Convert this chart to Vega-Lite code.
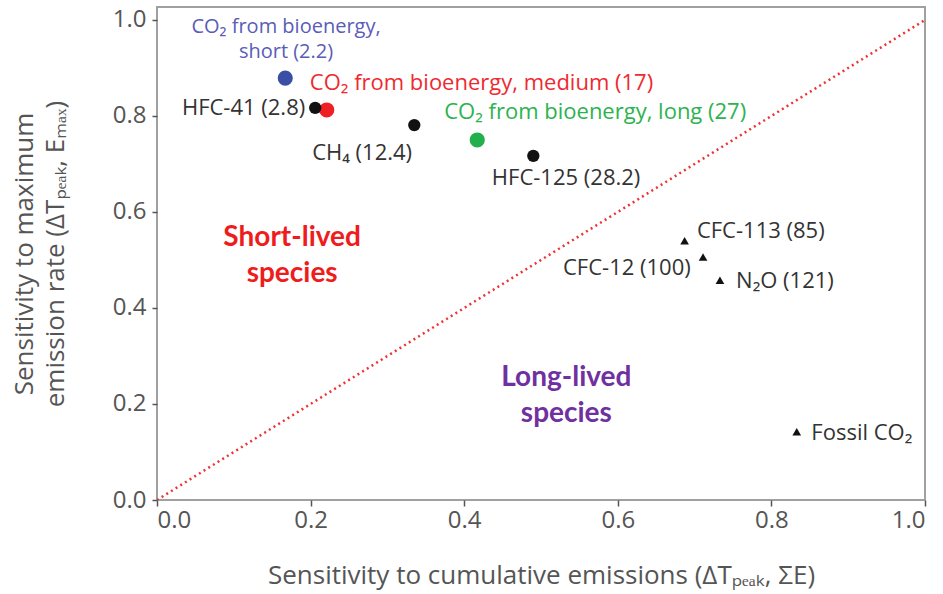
{
  "$schema": "https://vega.github.io/schema/vega-lite/v6.json",
  "autosize": {"type": "none"},
  "padding": {"left": 157, "top": 7, "right": 18, "bottom": 94},
  "width": 768,
  "height": 493,
  "background": "white",
  "config": {
    "view": {"stroke": "#a0a0a0", "strokeWidth": 2},
    "font": "Open Sans",
    "axis": {"grid": false, "domain": false, "labelFont": "Open Sans", "titleFont": "Open Sans", "labelColor": "#555", "titleColor": "#555", "labelFontSize": 24, "titleFontSize": 26, "titleFontWeight": "normal", "tickColor": "#555", "tickWidth": 1.5}
  },
  "datasets": {
    "points": [
      {"x": 0.167, "y": 0.879, "series": "short", "kind": "bio"},
      {"x": 0.221, "y": 0.8125, "series": "medium", "kind": "bio"},
      {"x": 0.417, "y": 0.75, "series": "long", "kind": "bio"},
      {"x": 0.206, "y": 0.817, "series": "other", "kind": "short gas"},
      {"x": 0.335, "y": 0.781, "series": "other", "kind": "short gas"},
      {"x": 0.49, "y": 0.717, "series": "other", "kind": "short gas"},
      {"x": 0.687, "y": 0.54, "series": "other", "kind": "long gas"},
      {"x": 0.711, "y": 0.506, "series": "other", "kind": "long gas"},
      {"x": 0.733, "y": 0.458, "series": "other", "kind": "long gas"},
      {"x": 0.833, "y": 0.142, "series": "other", "kind": "long gas"}
    ],
    "labelsLeft": [
      {"lx": 0.199, "ly": 0.869, "series": "medium", "label": "CO₂ from bioenergy, medium (17)"},
      {"lx": 0.202, "ly": 0.723, "series": "other", "label": "CH₄ (12.4)"},
      {"lx": 0.374, "ly": 0.808, "series": "long", "label": "CO₂ from bioenergy, long (27)"},
      {"lx": 0.436, "ly": 0.671, "series": "other", "label": "HFC-125 (28.2)"},
      {"lx": 0.703, "ly": 0.56, "series": "other", "label": "CFC-113 (85)"},
      {"lx": 0.754, "ly": 0.456, "series": "other", "label": "N₂O (121)"},
      {"lx": 0.852, "ly": 0.14, "series": "other", "label": "Fossil CO₂"}
    ],
    "labelsRight": [
      {"lx": 0.193, "ly": 0.817, "series": "other", "label": "HFC-41 (2.8)"},
      {"lx": 0.695, "ly": 0.483, "series": "other", "label": "CFC-12 (100)"}
    ],
    "labelsCenter": [
      {"lx": 0.168, "ly": 0.985, "series": "short", "label": "CO₂ from bioenergy,\nshort (2.2)"}
    ],
    "regions": [
      {"lx": 0.176, "ly": 0.546, "region": "short", "label": "Short-lived\nspecies"},
      {"lx": 0.533, "ly": 0.254, "region": "long", "label": "Long-lived\nspecies"}
    ],
    "diag": [{"x": 0, "y": 0, "x2": 1, "y2": 1}]
  },
  "layer": [
    {
      "data": {"name": "diag"},
      "mark": {"type": "rule", "color": "#ee3333", "strokeWidth": 2.5, "strokeDash": [2, 3.5], "clip": true},
      "encoding": {
        "x": {"field": "x", "type": "quantitative", "scale": {"domain": [0, 1], "nice": false, "zero": false},
          "axis": {"values": [0, 0.2, 0.4, 0.6, 0.8, 1.0], "format": ".1f", "tickSize": 6, "labelPadding": 2, "title": "Sensitivity to cumulative emissions (ΔTₚₑₐₖ, ΣE)", "titlePadding": 30}},
        "y": {"field": "y", "type": "quantitative", "scale": {"domain": [0, 1.027], "nice": false, "zero": false},
          "axis": {"values": [0, 0.2, 0.4, 0.6, 0.8, 1.0], "format": ".1f", "tickSize": 5, "labelPadding": 6, "title": ["Sensitivity to maximum", "emission rate (ΔTₚₑₐₖ, Eₘₐₓ)"], "titlePadding": 44, "titleLineHeight": 31}},
        "x2": {"field": "x2"},
        "y2": {"field": "y2"}
      }
    },
    {
      "data": {"name": "points"},
      "mark": {"type": "point", "filled": true, "opacity": 1},
      "encoding": {
        "x": {"field": "x", "type": "quantitative"},
        "y": {"field": "y", "type": "quantitative"},
        "color": {"field": "series", "type": "nominal", "legend": null, "scale": {"domain": ["short", "medium", "long", "other"], "range": ["#3b4ea6", "#ee2024", "#21b04b", "#111111"]}},
        "shape": {"field": "kind", "type": "nominal", "legend": null, "scale": {"domain": ["bio", "short gas", "long gas"], "range": ["circle", "circle", "triangle-up"]}},
        "size": {"field": "kind", "type": "nominal", "legend": null, "scale": {"domain": ["bio", "short gas", "long gas"], "range": [230, 75, 80]}}
      }
    },
    {
      "data": {"name": "labelsLeft"},
      "mark": {"type": "text", "align": "left", "baseline": "middle", "fontSize": 22, "font": "Open Sans"},
      "encoding": {
        "x": {"field": "lx", "type": "quantitative"},
        "y": {"field": "ly", "type": "quantitative"},
        "text": {"field": "label"},
        "color": {"field": "series", "type": "nominal", "legend": null, "scale": {"domain": ["short", "medium", "long", "other"], "range": ["#5a5cb8", "#ee2a30", "#2db34e", "#333333"]}}
      }
    },
    {
      "data": {"name": "labelsRight"},
      "mark": {"type": "text", "align": "right", "baseline": "middle", "fontSize": 22, "font": "Open Sans"},
      "encoding": {
        "x": {"field": "lx", "type": "quantitative"},
        "y": {"field": "ly", "type": "quantitative"},
        "text": {"field": "label"},
        "color": {"field": "series", "type": "nominal", "legend": null, "scale": {"domain": ["short", "medium", "long", "other"], "range": ["#5a5cb8", "#ee2a30", "#2db34e", "#333333"]}}
      }
    },
    {
      "data": {"name": "labelsCenter"},
      "mark": {"type": "text", "align": "center", "baseline": "middle", "fontSize": 20, "font": "Open Sans", "lineBreak": "\n", "lineHeight": 25},
      "encoding": {
        "x": {"field": "lx", "type": "quantitative"},
        "y": {"field": "ly", "type": "quantitative"},
        "text": {"field": "label"},
        "color": {"field": "series", "type": "nominal", "legend": null, "scale": {"domain": ["short", "medium", "long", "other"], "range": ["#5a5cb8", "#ee2a30", "#2db34e", "#333333"]}}
      }
    },
    {
      "data": {"name": "regions"},
      "mark": {"type": "text", "align": "center", "baseline": "middle", "fontSize": 28, "fontWeight": "bold", "font": "Lato", "lineBreak": "\n", "lineHeight": 36},
      "encoding": {
        "x": {"field": "lx", "type": "quantitative"},
        "y": {"field": "ly", "type": "quantitative"},
        "text": {"field": "label"},
        "color": {"field": "region", "type": "nominal", "legend": null, "scale": {"domain": ["short", "long"], "range": ["#ee1c1c", "#7030a0"]}}
      }
    }
  ],
  "resolve": {"scale": {"color": "independent"}}
}
